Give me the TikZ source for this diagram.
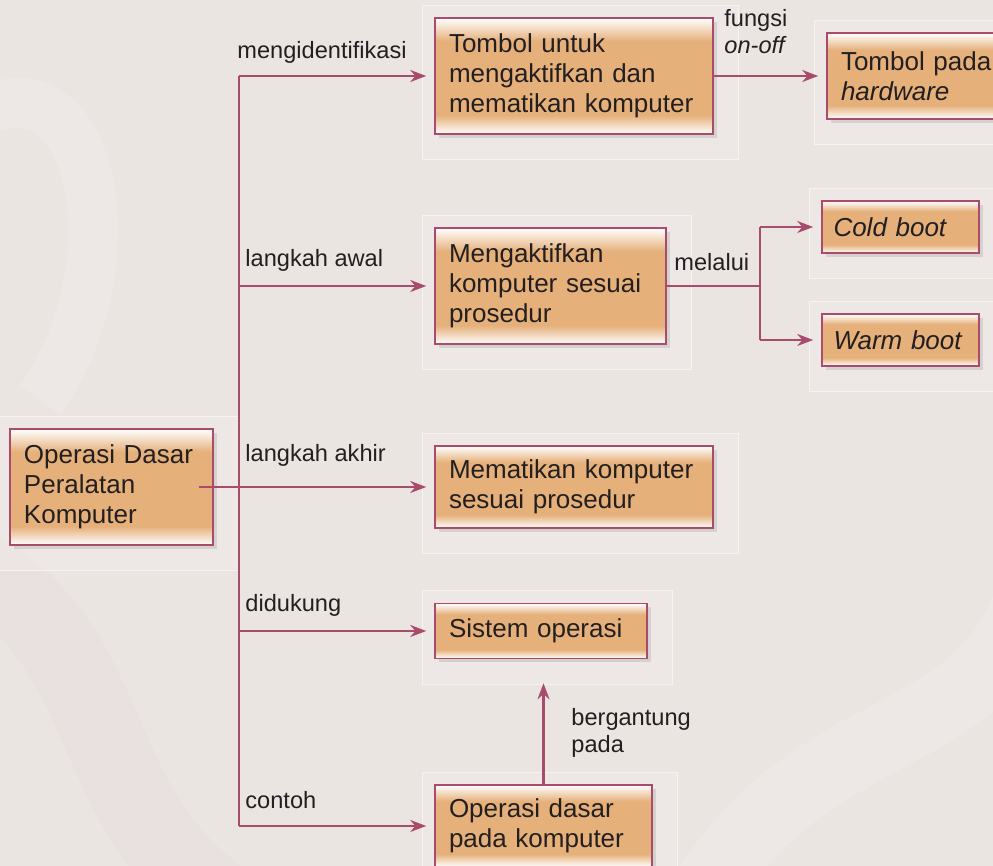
\documentclass[tikz,border=0pt]{standalone}
\usepackage{fontspec}
\setmainfont{Liberation Sans}
\usetikzlibrary{arrows.meta,shadows,backgrounds}

\definecolor{latar}{HTML}{EBE5E2}
\definecolor{oranye}{HTML}{E5B07A}
\definecolor{garis}{HTML}{A84B6D}
\definecolor{teks}{HTML}{231F20}
\pgfdeclareverticalshading{kotakshade}{100bp}{color(0bp)=(white); color(25bp)=(white); color(33bp)=(oranye); color(65bp)=(oranye); color(75bp)=(white); color(100bp)=(white)}

\begin{document}
\begin{tikzpicture}[x=0.5pt,y=-0.5pt,>={Stealth[length=8pt,width=6pt]},
  link/.style={line width=1.1pt,garis},
  arr/.style={link,->,shorten >=4pt},
  kotak/.style={draw=garis,line width=0.8pt,shade,shading=kotakshade,text=teks,align=left,
    inner xsep=7pt,font=\fontsize{13}{15}\selectfont,
    drop shadow={opacity=0.22,shadow xshift=2pt,shadow yshift=-2pt}},
  lbl/.style={text=teks,font=\fontsize{11.8}{13.5}\selectfont,anchor=west,inner sep=0pt,align=left},
  panel/.style={fill=white,fill opacity=0.15,draw=white,draw opacity=0.5,line width=0.4pt}]
  \useasboundingbox (0,0) rectangle (993,866);

  % kotak utama dan cabang
  \node[kotak,text width=87.5pt,minimum height=58pt] (dasar) at (111.5,487) {Operasi Dasar\\Peralatan\\Komputer};
  \node[kotak,text width=125pt,minimum height=58pt] (tombol) at (574,76) {Tombol untuk\\mengaktifkan dan\\mematikan komputer};
  \node[kotak,text width=86pt,minimum height=43pt] (hw) at (927,76) {Tombol pada\\\textit{hardware}};
  \node[kotak,text width=101.5pt,minimum height=58pt] (aktif) at (550.5,286) {Mengaktifkan\\komputer sesuai\\prosedur};
  \node[kotak,text width=67pt,inner xsep=5.75pt,minimum height=26pt] (cold) at (900.5,227) {\textit{Cold boot}};
  \node[kotak,text width=67pt,inner xsep=5.75pt,minimum height=26pt] (warm) at (900.5,340) {\textit{Warm boot}};
  \node[kotak,text width=125pt,minimum height=41pt] (mati) at (574,487) {Mematikan komputer\\sesuai prosedur};
  \node[kotak,text width=92pt,minimum height=27.5pt] (sistem) at (541,631) {Sistem operasi};
  \node[kotak,text width=94.5pt,minimum height=41pt] (opdasar) at (543.5,826) {Operasi dasar\\pada komputer};

  % garis penghubung
  \coordinate (batang) at (239,0);
  \coordinate (cabang) at (760,0);
  \draw[link] (batang |- tombol.west) -- (batang |- opdasar.west);
  \foreach \b in {tombol,aktif,sistem,opdasar}
    \draw[arr] (batang |- \b.west) -- (\b.west);
  \draw[arr] ([xshift=-7.5pt]dasar.east) -- (mati.west);
  \draw[arr] (tombol.east) -- (hw.west);
  \draw[link] (aktif.east) -- (aktif.east -| cabang);
  \draw[link] (cabang |- cold.west) -- (cabang |- warm.west);
  \draw[arr] (cabang |- cold.west) -- (cold.west);
  \draw[arr] (cabang |- warm.west) -- (warm.west);
  \draw[arr,shorten >=12pt] (opdasar.north) -- (opdasar.north |- sistem.south);

  % label
  \node[lbl] (lident) at (237,52) {mengidentifikasi};
  \node[lbl] (lfungsi) at (724,32) {fungsi\\\textit{on-off}};
  \node[lbl] (lawal) at (245,260) {langkah awal};
  \node[lbl] (lmelalui) at (674,262) {melalui};
  \node[lbl] (lakhir) at (245,455) {langkah akhir};
  \node[lbl] (ldukung) at (245,605) {didukung};
  \node[lbl] (lgantung) at (571,733) {bergantung\\pada};
  \node[lbl] (lcontoh) at (245,800) {contoh};

  \begin{scope}[on background layer]
    \fill[latar] (0,0) rectangle (993,866);
    \draw[white,opacity=0.12,line width=25pt] (-30,120) .. controls (90,40) and (140,260) .. (40,400);
    \draw[white,opacity=0.12,line width=35pt] (700,900) .. controls (820,700) and (1000,760) .. (1040,560);
    \draw[garis,opacity=0.025,line width=40pt] (-40,560) .. controls (120,640) and (80,800) .. (220,900);
    \foreach \n in {dasar,tombol,hw,aktif,cold,warm,mati,sistem,opdasar}
      \draw[panel] ([xshift=-6pt,yshift=6pt]\n.north west) rectangle ([xshift=12.5pt,yshift=-12.5pt]\n.south east);
  \end{scope}
\end{tikzpicture}
\end{document}
